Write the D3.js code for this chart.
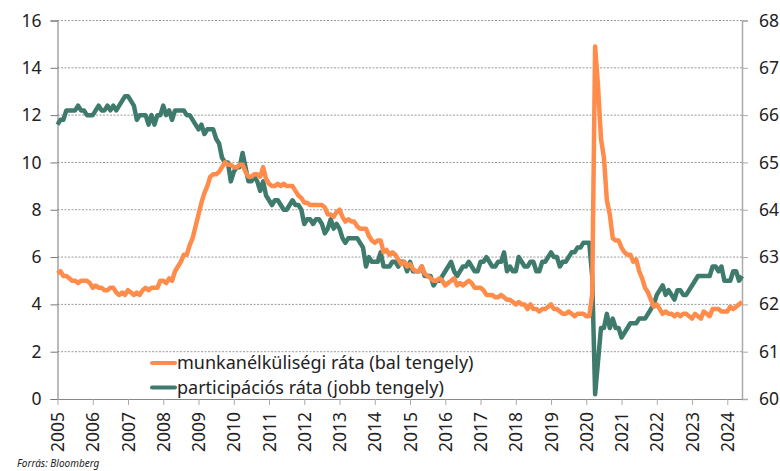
<!DOCTYPE html>
<html>
<head>
<meta charset="utf-8">
<script src="https://cdnjs.cloudflare.com/ajax/libs/d3/7.8.5/d3.min.js"></script>
<style>
  body { margin: 0; background: #fff; }
  text { font-family: "Noto Sans", sans-serif; fill: #222; }
</style>
</head>
<body>
<div id="chart"></div>
<script>
// monthly data, Jan 2005 - Jun 2024
var startYear = 2005;

// unemployment rate (%), left axis
var unemp = [
  5.3, 5.4, 5.2, 5.2, 5.1, 5.0, 5.0, 4.9, 5.0, 5.0, 5.0, 4.9,
  4.7, 4.8, 4.7, 4.7, 4.6, 4.6, 4.7, 4.7, 4.5, 4.4, 4.5, 4.4,
  4.6, 4.5, 4.4, 4.5, 4.4, 4.6, 4.7, 4.6, 4.7, 4.7, 4.7, 5.0,
  5.0, 4.9, 5.1, 5.0, 5.4, 5.6, 5.8, 6.1, 6.1, 6.5, 6.8, 7.3,
  7.8, 8.3, 8.7, 9.0, 9.4, 9.5, 9.5, 9.6, 9.8, 10.0, 9.9, 9.9,
  9.8, 9.8, 9.9, 9.9, 9.6, 9.4, 9.4, 9.5, 9.5, 9.4, 9.8, 9.3,
  9.1, 9.0, 9.0, 9.1, 9.0, 9.1, 9.0, 9.0, 9.0, 8.8, 8.6, 8.5,
  8.3, 8.3, 8.2, 8.2, 8.2, 8.2, 8.2, 8.1, 7.8, 7.8, 7.7, 7.9,
  8.0, 7.7, 7.5, 7.6, 7.5, 7.5, 7.3, 7.2, 7.2, 7.2, 6.9, 6.7,
  6.6, 6.7, 6.7, 6.2, 6.3, 6.1, 6.2, 6.1, 5.9, 5.7, 5.8, 5.6,
  5.7, 5.5, 5.4, 5.4, 5.6, 5.3, 5.2, 5.1, 5.0, 5.0, 5.1, 5.0,
  4.8, 4.9, 5.0, 5.1, 4.8, 4.9, 4.8, 4.9, 5.0, 4.9, 4.7, 4.7,
  4.7, 4.6, 4.4, 4.4, 4.4, 4.3, 4.3, 4.4, 4.3, 4.2, 4.2, 4.1,
  4.0, 4.1, 4.0, 4.0, 3.8, 4.0, 3.8, 3.8, 3.7, 3.8, 3.8, 3.9,
  4.0, 3.8, 3.8, 3.7, 3.6, 3.6, 3.7, 3.6, 3.5, 3.6, 3.6, 3.6,
  3.5, 3.5, 4.4, 14.9, 13.2, 11.0, 10.2, 8.4, 7.8, 6.8, 6.7, 6.7,
  6.4, 6.2, 6.1, 6.1, 5.8, 5.9, 5.4, 5.1, 4.7, 4.5, 4.2, 3.9,
  4.0, 3.8, 3.6, 3.7, 3.6, 3.6, 3.5, 3.6, 3.5, 3.6, 3.6, 3.5,
  3.4, 3.6, 3.5, 3.4, 3.7, 3.6, 3.5, 3.8, 3.8, 3.8, 3.7, 3.7,
  3.7, 3.9, 3.8, 3.9, 4.0, 4.1
];

// participation rate (%), right axis
var partic = [
  65.8, 65.9, 65.9, 66.1, 66.1, 66.1, 66.1, 66.2, 66.1, 66.1, 66.0, 66.0,
  66.0, 66.1, 66.2, 66.1, 66.1, 66.2, 66.1, 66.2, 66.1, 66.2, 66.3, 66.4,
  66.4, 66.3, 66.2, 65.9, 66.0, 66.0, 66.0, 65.8, 66.0, 65.8, 66.0, 66.0,
  66.2, 66.0, 66.1, 65.9, 66.1, 66.1, 66.1, 66.1, 66.0, 66.0, 65.9, 65.8,
  65.7, 65.8, 65.6, 65.7, 65.7, 65.7, 65.5, 65.4, 65.1, 65.0, 65.0, 64.6,
  64.8, 64.9, 64.9, 65.2, 64.9, 64.6, 64.6, 64.7, 64.6, 64.4, 64.6, 64.3,
  64.2, 64.1, 64.2, 64.2, 64.1, 64.0, 64.0, 64.1, 64.2, 64.1, 64.1, 64.0,
  63.7, 63.8, 63.8, 63.7, 63.8, 63.8, 63.7, 63.5, 63.6, 63.8, 63.6, 63.7,
  63.6, 63.4, 63.3, 63.4, 63.4, 63.4, 63.4, 63.3, 63.2, 62.8, 63.0, 62.9,
  62.9, 62.9, 63.1, 62.8, 62.8, 62.8, 62.9, 62.9, 62.8, 62.9, 62.9, 62.7,
  62.9, 62.7, 62.7, 62.7, 62.8, 62.6, 62.6, 62.6, 62.4, 62.5, 62.5, 62.6,
  62.7, 62.8, 62.9, 62.7, 62.6, 62.7, 62.8, 62.8, 62.9, 62.8, 62.7, 62.7,
  62.9, 62.9, 63.0, 62.9, 62.8, 62.8, 62.9, 62.9, 63.1, 62.7, 62.8, 62.7,
  62.7, 63.0, 62.9, 62.8, 62.8, 62.9, 62.9, 62.7, 62.7, 62.9, 62.9, 63.0,
  63.1, 63.0, 63.0, 62.8, 62.9, 62.9, 63.0, 63.1, 63.1, 63.2, 63.2, 63.3,
  63.3, 63.3, 62.6, 60.1, 60.8, 61.5, 61.5, 61.8, 61.5, 61.7, 61.5, 61.5,
  61.3, 61.4, 61.5, 61.6, 61.6, 61.6, 61.7, 61.7, 61.7, 61.8, 61.9, 62.0,
  62.2, 62.3, 62.4, 62.2, 62.3, 62.2, 62.1, 62.3, 62.3, 62.2, 62.2, 62.3,
  62.4, 62.5, 62.6, 62.6, 62.6, 62.6, 62.6, 62.8, 62.8, 62.7, 62.8, 62.5,
  62.5, 62.5, 62.7, 62.7, 62.5, 62.6
];

var yearTicks = d3.range(2005, 2025);
var leftTicks = [0, 2, 4, 6, 8, 10, 12, 14, 16];
var rightTicks = [60, 61, 62, 63, 64, 65, 66, 67, 68];

var seriesNames = ["munkanélküliségi ráta (bal tengely)", "participációs ráta (jobb tengely)"];
var colors = ["#ff8c4b", "#3e7b6c"];

var width = 780, height = 471;
var plotLeft = 57.5, plotRight = 742, plotTop = 20.5, plotBottom = 399;

var svg = d3.select("#chart").append("svg")
    .attr("width", width)
    .attr("height", height);

var x = d3.scaleLinear()
    .domain([startYear, startYear + (unemp.length - 1) / 12])
    .range([plotLeft, plotRight]);

var yL = d3.scaleLinear().domain([0, 16]).range([plotBottom, plotTop]);
var yR = d3.scaleLinear().domain([60, 68]).range([plotBottom, plotTop]);

// gridlines
svg.append("g").selectAll("line")
    .data(leftTicks.filter(function(d) { return d > 0; }))
    .enter().append("line")
    .attr("x1", plotLeft).attr("x2", plotRight)
    .attr("y1", function(d) { return yL(d); })
    .attr("y2", function(d) { return yL(d); })
    .attr("stroke", "#9a9a9a")
    .attr("stroke-width", 1)
    .attr("stroke-dasharray", "2,1.5");

// left axis
var yAxisL = d3.axisLeft(yL).tickValues(leftTicks).tickSize(7).tickPadding(9);
var gL = svg.append("g").attr("transform", "translate(" + plotLeft + ",0)").call(yAxisL);
gL.select(".domain").attr("stroke", "#777");
gL.selectAll(".tick line").attr("stroke", "#777");
gL.selectAll("text").style("font-size", "17.5px").attr("fill", "#222");

// right axis
var yAxisR = d3.axisRight(yR).tickValues(rightTicks).tickSize(6).tickPadding(11);
var gR = svg.append("g").attr("transform", "translate(" + plotRight + ",0)").call(yAxisR);
gR.select(".domain").attr("stroke", "#aaa").attr("stroke-width", 1.5);
gR.selectAll(".tick line").attr("stroke", "#aaa");
gR.selectAll("text").style("font-size", "17.5px").attr("fill", "#222");

// bottom axis
var xAxis = d3.axisBottom(x).tickValues(yearTicks).tickFormat(d3.format("d")).tickSize(6).tickSizeOuter(0);
var gX = svg.append("g").attr("transform", "translate(0," + plotBottom + ")").call(xAxis);
gX.select(".domain").attr("stroke", "#888");
gX.selectAll(".tick line").attr("stroke", "#aaa");
gX.selectAll("text")
    .style("font-size", "17.5px")
    .attr("fill", "#222")
    .attr("transform", "rotate(-90)")
    .attr("text-anchor", "end")
    .attr("x", -13)
    .attr("y", 0)
    .attr("dy", "0.35em");

// lines
var lineL = d3.line()
    .x(function(d, i) { return x(startYear + i / 12); })
    .y(function(d) { return yL(d); });
var lineR = d3.line()
    .x(function(d, i) { return x(startYear + i / 12); })
    .y(function(d) { return yR(d); });

svg.append("path")
    .datum(partic)
    .attr("d", lineR)
    .attr("fill", "none")
    .attr("stroke", colors[1])
    .attr("stroke-width", 4.5)
    .attr("stroke-linejoin", "round");

svg.append("path")
    .datum(unemp)
    .attr("d", lineL)
    .attr("fill", "none")
    .attr("stroke", colors[0])
    .attr("stroke-width", 4.5)
    .attr("stroke-linejoin", "round");

// legend
var legend = svg.append("g").attr("transform", "translate(152,363)");
seriesNames.forEach(function(name, i) {
    var g = legend.append("g").attr("transform", "translate(0," + (i * 24.5) + ")");
    g.append("line")
        .attr("x1", 0).attr("x2", 23)
        .attr("y1", 0).attr("y2", 0)
        .attr("stroke", colors[i])
        .attr("stroke-width", 4)
        .attr("stroke-linecap", "round");
    g.append("text")
        .attr("x", 25)
        .attr("y", 0)
        .attr("dy", "0.35em")
        .style("font-size", "18px")
        .text(name);
});

// source
svg.append("text")
    .attr("x", 17)
    .attr("y", 467)
    .style("font-size", "10px")
    .style("font-style", "italic")
    .attr("fill", "#555")
    .text("Forrás: Bloomberg");
</script>
</body>
</html>
